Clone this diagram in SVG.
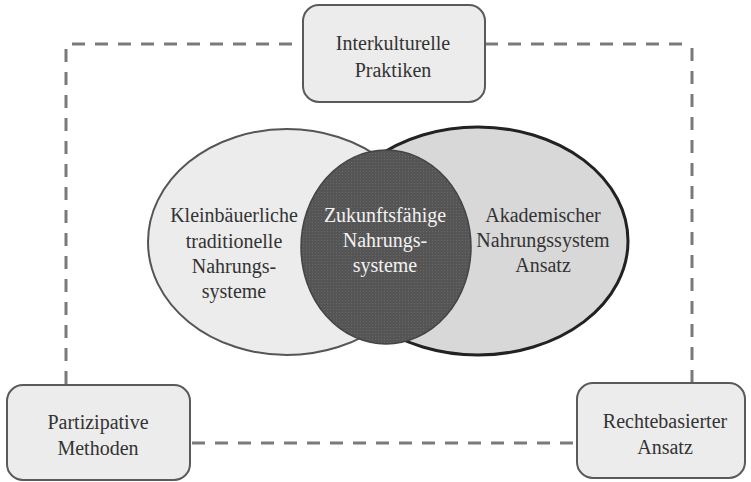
<svg xmlns="http://www.w3.org/2000/svg" width="751" height="482" viewBox="0 0 751 482">
<defs>
<style>
.box{fill:#ececec;stroke:#5a5a5a;stroke-width:2}
text{font-family:'Liberation Serif','DejaVu Serif',serif;font-size:20px;text-anchor:middle}
.t{fill:#333}
.tw{fill:#f2f2f2}
.dash{fill:none;stroke:#7a7a7a;stroke-width:3;stroke-dasharray:13 10}
</style>
<pattern id="tex" width="3" height="3" patternUnits="userSpaceOnUse">
<rect width="3" height="3" fill="#555"/>
<rect width="1" height="1" fill="#686868"/>
</pattern>
</defs>
<rect width="751" height="482" fill="#fff"/>
<g id="connectors">
<path class="dash" d="M72,44 H303"/>
<path class="dash" d="M485,44 H686"/>
<path class="dash" d="M66,49 V385"/>
<path class="dash" d="M692,48 V383"/>
<path class="dash" d="M192,443 H577"/>
</g>
<g id="venn">
<g id="kleinbaeuerlich">
<ellipse cx="287" cy="242" rx="139" ry="113" fill="#ececec"/>
</g>
<g id="akademisch">
<ellipse cx="478" cy="241" rx="150" ry="114" fill="#d8d8d8"/>
<ellipse cx="287" cy="242" rx="139" ry="113" fill="none" stroke="#555" stroke-width="2"/>
<ellipse cx="478" cy="241" rx="150" ry="114" fill="none" stroke="#222" stroke-width="3"/>
<text class="t" x="543" y="222">Akademischer</text>
<text class="t" x="543" y="247">Nahrungssystem</text>
<text class="t" x="543" y="272">Ansatz</text>
</g>
<g id="klein-text">
<text class="t" x="234" y="222">Kleinbäuerliche</text>
<text class="t" x="234" y="248">traditionelle</text>
<text class="t" x="234" y="273">Nahrungs-</text>
<text class="t" x="234" y="298">systeme</text>
</g>
<g id="zukunft">
<ellipse cx="386" cy="247" rx="85" ry="97" fill="url(#tex)" stroke="#444" stroke-width="1.5"/>
<text class="tw" x="385" y="222">Zukunftsfähige</text>
<text class="tw" x="385" y="247">Nahrungs-</text>
<text class="tw" x="385" y="272">systeme</text>
</g>
</g>
<g id="interkulturell">
<rect class="box" x="303" y="5" width="182" height="97" rx="16"/>
<text class="t" x="393" y="50">Interkulturelle</text>
<text class="t" x="393" y="77">Praktiken</text>
</g>
<g id="partizipativ">
<rect class="box" x="7" y="385" width="183" height="95" rx="16"/>
<text class="t" x="98" y="429">Partizipative</text>
<text class="t" x="98" y="455">Methoden</text>
</g>
<g id="rechtebasiert">
<rect class="box" x="577" y="383" width="168" height="95" rx="16"/>
<text class="t" x="665" y="428">Rechtebasierter</text>
<text class="t" x="665" y="454">Ansatz</text>
</g>
</svg>
